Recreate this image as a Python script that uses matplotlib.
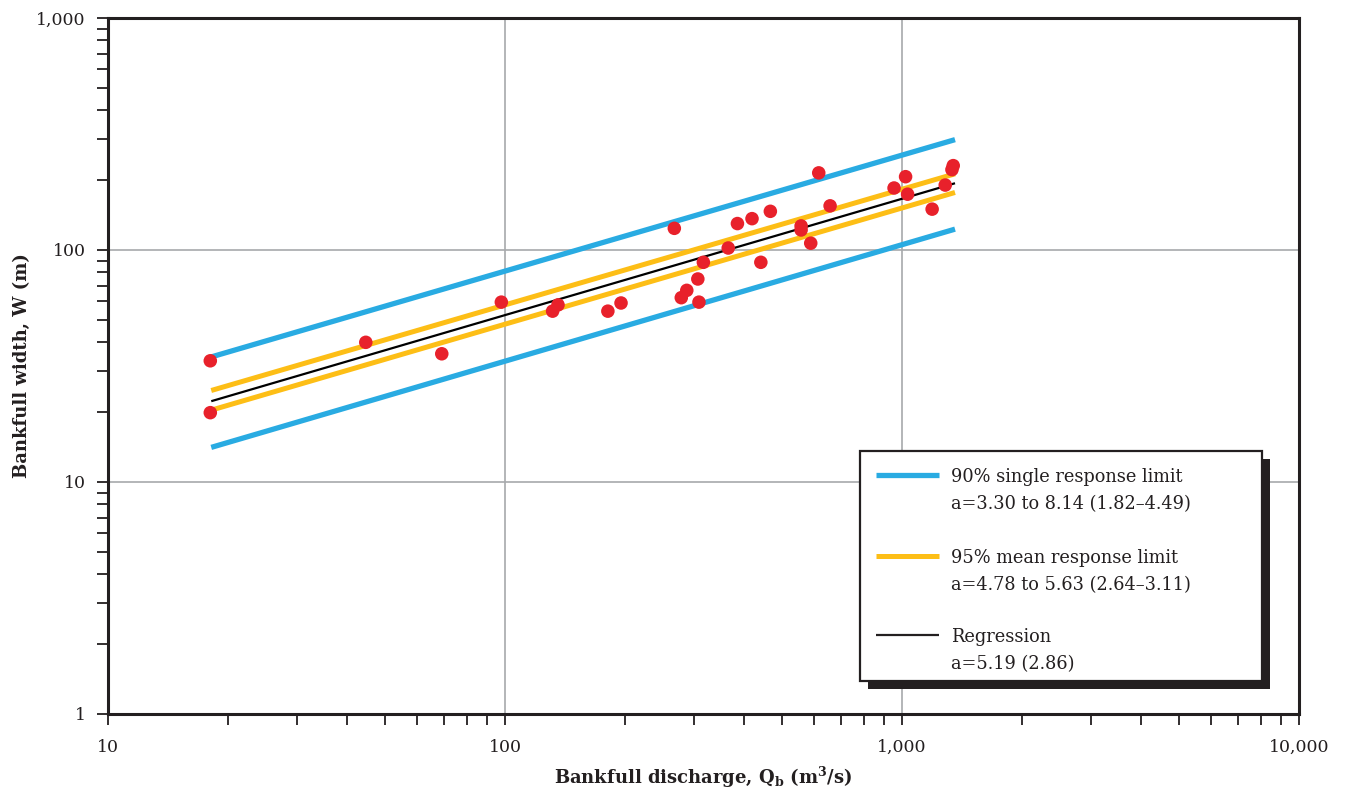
import matplotlib
matplotlib.use("Agg")
import matplotlib.pyplot as plt
import matplotlib.ticker as mticker
from matplotlib.patches import Rectangle
from matplotlib.lines import Line2D

plt.rcParams['font.family'] = ['DejaVu Serif']
plt.rcParams['mathtext.fontset'] = 'dejavuserif'

# ---- data ----
discharge = [18.1, 18.1, 44.6, 69.3, 97.9, 131.8, 136, 181.6, 196, 267, 278, 287,
             306, 308, 316, 365, 385, 419, 441, 466, 557, 557, 589, 617, 659, 955,
             1021, 1033, 1191, 1285, 1336, 1346]
width = [33.3, 19.9, 40.0, 35.7, 59.6, 54.5, 58.0, 54.5, 59.1, 124, 62.3, 67.0,
         75.0, 59.6, 88.5, 102, 130, 136.5, 88.5, 146.8, 127, 122, 107, 215, 155, 185,
         207, 174, 150, 190.5, 222, 231]

line_q = [18.2, 1360]
upper90 = [34.6, 299]
lower90 = [14.1, 123]
upper95 = [24.8, 213]
lower95 = [20.4, 177]
regression = [22.3, 194]

legend_labels = ["90% single response limit\na=3.30 to 8.14 (1.82\u20134.49)",
                 "95% mean response limit\na=4.78 to 5.63 (2.64\u20133.11)",
                 "Regression\na=5.19 (2.86)"]

BLUE = '#29abe2'
YELLOW = '#fdbe16'
RED = '#e8212b'
DARK = '#231f20'

W, H = 1347, 795
fig = plt.figure(figsize=(W / 100, H / 100), dpi=100)
ax = fig.add_axes([108 / W, 1 - 714 / H, (1299 - 108) / W, (714 - 18) / H])
ax.set_xscale('log')
ax.set_yscale('log')
ax.set_xlim(10, 10000)
ax.set_ylim(1, 1000)

ax.grid(True, which='major', color='#a7a9ac', linewidth=1.2)
ax.set_axisbelow(True)

ax.plot(line_q, upper90, color=BLUE, lw=3.8, solid_capstyle='butt', zorder=2)
ax.plot(line_q, lower90, color=BLUE, lw=3.8, solid_capstyle='butt', zorder=2)
ax.plot(line_q, upper95, color=YELLOW, lw=3.6, solid_capstyle='butt', zorder=2)
ax.plot(line_q, lower95, color=YELLOW, lw=3.6, solid_capstyle='butt', zorder=2)
ax.plot(line_q, regression, color='black', lw=1.6, solid_capstyle='butt', zorder=3)
ax.scatter(discharge, width, s=95, color=RED, edgecolors='none', zorder=4)

for s in ax.spines.values():
    s.set_linewidth(2.2)
    s.set_color(DARK)

fmt = mticker.FuncFormatter(lambda v, p: f"{v:,.0f}")
ax.xaxis.set_major_formatter(fmt)
ax.yaxis.set_major_formatter(fmt)
ax.xaxis.set_minor_formatter(mticker.NullFormatter())
ax.yaxis.set_minor_formatter(mticker.NullFormatter())
ax.xaxis.set_minor_locator(mticker.LogLocator(base=10, subs=range(2, 10)))
ax.yaxis.set_minor_locator(mticker.LogLocator(base=10, subs=range(2, 10)))
ax.tick_params(which='both', direction='out', length=8, width=1.3, color=DARK,
               labelsize=12.5, labelcolor=DARK)
ax.tick_params(axis='x', which='major', pad=10)
ax.tick_params(axis='y', which='major', pad=8)

ax.set_xlabel(r"Bankfull discharge, Q$_{\mathbf{b}}$ (m$^{\mathbf{3}}$/s)",
              fontsize=13, fontweight='bold', color=DARK, labelpad=6)
ax.set_ylabel("Bankfull width, W (m)", fontsize=13, fontweight='bold', color=DARK,
              labelpad=4)

# ---- legend box with drop shadow (pixel coordinates of the figure) ----
def fx(px):
    return px / W

def fy(py):
    return 1 - py / H

shadow = Rectangle((fx(868), fy(689)), fx(1270) - fx(868), fy(459) - fy(689),
                   transform=fig.transFigure, facecolor=DARK, edgecolor='none', zorder=10)
box = Rectangle((fx(860), fy(681)), fx(1262) - fx(860), fy(451) - fy(681),
                transform=fig.transFigure, facecolor='white', edgecolor=DARK,
                linewidth=1.6, zorder=11)
fig.add_artist(shadow)
fig.add_artist(box)

handles = [(BLUE, 3.8, 475), (YELLOW, 3.6, 556), (DARK, 1.6, 635)]
for (c, lw, py), lab in zip(handles, legend_labels):
    fig.add_artist(Line2D([fx(876), fx(939)], [fy(py), fy(py)], color=c, lw=lw,
                          transform=fig.transFigure, zorder=12, solid_capstyle='butt'))
    fig.text(fx(951), fy(py - 7), lab, fontsize=12.8, color=DARK, va='top', ha='left',
             linespacing=1.65, zorder=12)

fig.savefig("out.png", dpi=100)
